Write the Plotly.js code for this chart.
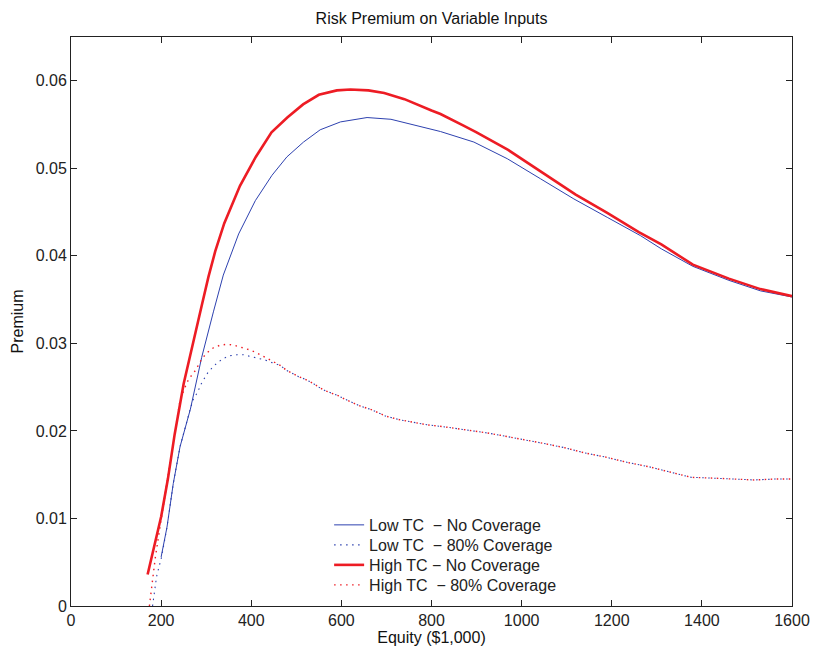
<!DOCTYPE html>
<html>
<head>
<meta charset="utf-8">
<script src="https://cdn.plot.ly/plotly-3.0.1.min.js"></script>
<style>html,body{margin:0;padding:0;background:#fff;}#chart{width:813px;height:650px;}</style>
</head>
<body>
<div id="chart"></div>
<script>
// Low TC - No Coverage
const lowNoX = [200, 213, 227, 242, 265, 290, 316, 338, 372, 409, 446, 479, 516, 553, 598, 657, 710, 770, 820, 894, 968, 1042, 1116, 1190, 1264, 1310, 1380, 1460, 1530, 1600];
const lowNoY = [0.0056, 0.0090, 0.0140, 0.0182, 0.0225, 0.0284, 0.0336, 0.0378, 0.0425, 0.0463, 0.0492, 0.0513, 0.0530, 0.0544, 0.0553, 0.0558, 0.0556, 0.0548, 0.0542, 0.0530, 0.0511, 0.0488, 0.0465, 0.0444, 0.0423, 0.0408, 0.0388, 0.0372, 0.0360, 0.0353];

// Low TC - 80% Coverage
const low80X = [181, 190, 201, 213, 227, 242, 264, 272, 281, 287, 296, 303, 313, 325, 339, 353, 368, 383, 399, 416, 431, 446, 464, 479, 490, 505, 520, 535, 550, 564, 579, 594, 609, 639, 668, 698, 727, 757, 790, 824, 853, 887, 920, 953, 998, 1046, 1094, 1139, 1187, 1235, 1283, 1327, 1376, 1427, 1472, 1516, 1561, 1600];
const low80Y = [0.0, 0.0034, 0.0056, 0.0090, 0.0140, 0.0182, 0.0224, 0.0237, 0.0244, 0.0252, 0.0260, 0.0266, 0.0272, 0.0278, 0.0283, 0.0286, 0.0287, 0.0287, 0.0285, 0.0283, 0.0281, 0.0278, 0.0275, 0.0269, 0.0266, 0.0262, 0.0259, 0.0255, 0.0250, 0.0246, 0.0243, 0.0240, 0.0236, 0.0229, 0.0224, 0.0217, 0.0213, 0.0210, 0.0207, 0.0205, 0.0203, 0.0200, 0.0198, 0.0195, 0.0191, 0.0186, 0.0181, 0.0175, 0.0170, 0.0164, 0.0159, 0.0153, 0.0147, 0.0146, 0.0145, 0.0144, 0.0145, 0.0145];

// High TC - No Coverage
const highNoX = [170, 200, 215, 230, 250, 270, 290, 305, 320, 340, 375, 410, 445, 480, 515, 550, 590, 620, 660, 695, 740, 800, 820, 870, 900, 970, 1040, 1120, 1190, 1260, 1310, 1380, 1460, 1530, 1600];
const highNoY = [0.0036, 0.0102, 0.0145, 0.0196, 0.0254, 0.0300, 0.0343, 0.0376, 0.0405, 0.0437, 0.0480, 0.0513, 0.0541, 0.0558, 0.0573, 0.0584, 0.0589, 0.0590, 0.0589, 0.0586, 0.0579, 0.0566, 0.0562, 0.0549, 0.0541, 0.0521, 0.0497, 0.0470, 0.0449, 0.0427, 0.0413, 0.0390, 0.0374, 0.0362, 0.0354];

// High TC - 80% Coverage
const high80X = [174, 187, 201, 213, 227, 242, 257, 264, 276, 290, 301, 316, 331, 346, 361, 376, 394, 409, 424, 450, 464, 479, 490, 505, 520, 535, 550, 564, 579, 594, 609, 639, 668, 698, 727, 757, 790, 824, 853, 887, 920, 953, 998, 1046, 1094, 1139, 1187, 1235, 1283, 1327, 1376, 1427, 1472, 1516, 1561, 1600];
const high80Y = [0.0, 0.0055, 0.0102, 0.0140, 0.0189, 0.0235, 0.0255, 0.0261, 0.0269, 0.0282, 0.0289, 0.0295, 0.0298, 0.0299, 0.0298, 0.0296, 0.0293, 0.0290, 0.0286, 0.0279, 0.0275, 0.0269, 0.0266, 0.0262, 0.0259, 0.0255, 0.0250, 0.0246, 0.0243, 0.0240, 0.0236, 0.0229, 0.0224, 0.0217, 0.0213, 0.0210, 0.0207, 0.0205, 0.0203, 0.0200, 0.0198, 0.0195, 0.0191, 0.0186, 0.0181, 0.0175, 0.0170, 0.0164, 0.0159, 0.0153, 0.0147, 0.0146, 0.0145, 0.0144, 0.0145, 0.0145];

const seriesNames = [
  'Low TC\u00a0\u00a0\u2212 No Coverage',
  'Low TC\u00a0\u00a0\u2212 80% Coverage',
  'High TC \u2212 No Coverage',
  'High TC\u00a0\u00a0\u2212 80% Coverage'
];
const xTicks = [0, 200, 400, 600, 800, 1000, 1200, 1400, 1600];
const yTicks = [0, 0.01, 0.02, 0.03, 0.04, 0.05, 0.06];

const blue = 'rgb(45,65,175)';
const red = 'rgb(237,28,36)';
const dotted = '1.5px,4.5px';

const traces = [
  {x: lowNoX, y: lowNoY, name: seriesNames[0], mode: 'lines', legend: 'legend', line: {color: blue, width: 1}},
  {x: low80X, y: low80Y, name: seriesNames[1], mode: 'lines', legend: 'legend2', line: {color: blue, width: 1.1, dash: dotted}},
  {x: highNoX, y: highNoY, name: seriesNames[2], mode: 'lines', legend: 'legend3', line: {color: red, width: 2.6}},
  {x: high80X, y: high80Y, name: seriesNames[3], mode: 'lines', legend: 'legend4', line: {color: red, width: 1.4, dash: dotted}}
];

const fam = 'Liberation Sans, Arial, sans-serif';
const legendFont = {family: fam, size: 16, color: '#222'};
function legendAt(y) {
  return {x: 0.358, y: y, xanchor: 'left', yanchor: 'middle', bgcolor: 'rgba(0,0,0,0)', borderwidth: 0, font: legendFont};
}

const layout = {
  width: 813, height: 650,
  margin: {l: 71, r: 21, t: 37, b: 44},
  paper_bgcolor: '#fff', plot_bgcolor: '#fff',
  font: {family: fam, size: 16, color: '#222'},
  title: {text: 'Risk Premium on Variable Inputs', x: 0.5, xref: 'paper', y: 0.972, yref: 'container', yanchor: 'middle', font: {family: fam, size: 16, color: '#111'}},
  showlegend: true,
  legend: legendAt(0.1424),
  legend2: legendAt(0.1072),
  legend3: legendAt(0.0721),
  legend4: legendAt(0.0369),
  xaxis: {
    range: [0, 1600], tickvals: xTicks, ticktext: xTicks.map(String),
    ticks: 'inside', ticklen: 6, tickcolor: '#222', tickwidth: 1,
    showline: true, linecolor: '#222', linewidth: 1, mirror: 'ticks',
    showgrid: false, zeroline: false,
    title: {text: 'Equity ($1,000)', font: {family: fam, size: 16, color: '#111'}, standoff: 3},
    tickfont: {family: fam, size: 16, color: '#222'}
  },
  yaxis: {
    range: [0, 0.065], tickvals: yTicks, ticktext: yTicks.map(v => v === 0 ? '0' : v.toFixed(2)),
    ticks: 'inside', ticklen: 6, tickcolor: '#222', tickwidth: 1,
    showline: true, linecolor: '#222', linewidth: 1, mirror: 'ticks',
    showgrid: false, zeroline: false,
    title: {text: 'Premium', font: {family: fam, size: 16, color: '#111'}, standoff: 8},
    tickfont: {family: fam, size: 16, color: '#222'}
  }
};

Plotly.newPlot('chart', traces, layout, {displayModeBar: false, staticPlot: true});
</script>
</body>
</html>
